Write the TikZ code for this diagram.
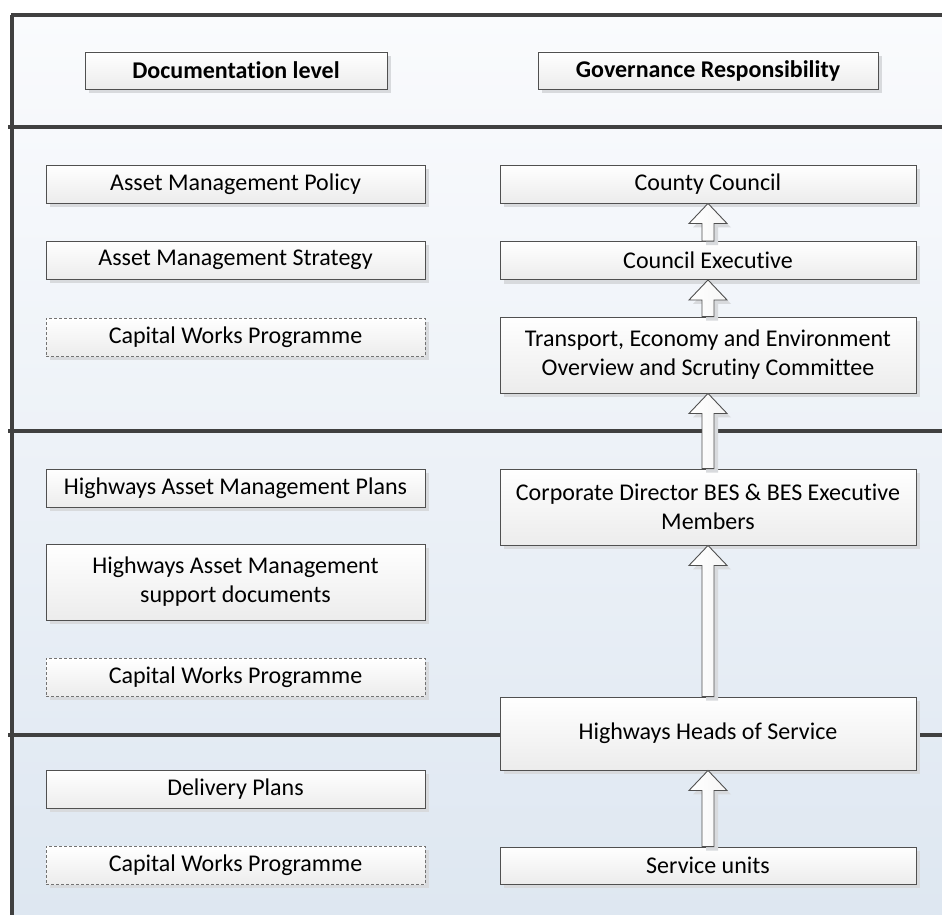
\documentclass[tikz,border=0pt]{standalone}
\usepackage{fontspec}
\setmainfont{Carlito}[Ligatures=NoCommon]
\usetikzlibrary{calc,shadows}
\definecolor{frameline}{HTML}{404040}
\definecolor{boxline}{HTML}{505050}
\definecolor{boxbot}{HTML}{ECECEC}
\definecolor{shadowgray}{HTML}{D8DADD}
\definecolor{lanetop}{HTML}{FAFBFD}
\definecolor{lanetopb}{HTML}{F6F8FB}
\definecolor{lanehi}{HTML}{F7F9FC}
\definecolor{lanelo}{HTML}{DEE7F1}
\tikzset{
  box/.style={draw=boxline, line width=0.9pt, top color=white, bottom color=boxbot,
    inner sep=0pt, align=center, font=\fontsize{24}{29}\selectfont,
    drop shadow={shadow xshift=4pt, shadow yshift=-4pt, fill=shadowgray, opacity=1}},
  dbox/.style={box, draw=gray!90!black, dash pattern=on 3pt off 2pt},
  hbox/.style={box, font=\fontsize{24}{29}\selectfont\bfseries},
  lane/.style={draw=frameline, line width=4pt},
  blockarrow/.style={draw=boxline, line width=0.9pt, left color=white, right color=boxbot!50,
    drop shadow={shadow xshift=4pt, shadow yshift=-4pt, fill=shadowgray, opacity=1}}
}
\newcommand{\upblock}[2]{%
  \path[blockarrow] ($(#1.north)+(-6,0)$) -- ($(#2.south)+(-6,20)$) -- ($(#2.south)+(-19,20)$)
    -- (#2.south) -- ($(#2.south)+(19,20)$) -- ($(#2.south)+(6,20)$) -- ($(#1.north)+(6,0)$) -- cycle;}
\begin{document}
\begin{tikzpicture}[x=1pt,y=-1pt]
\useasboundingbox (0,0) rectangle (942,915);
\fill[white] (0,0) rectangle (942,915);
% lane backgrounds
\fill[top color=lanetop, bottom color=lanetopb] (11,15) rectangle (942,127);
\fill[top color=lanehi, bottom color=lanelo] (11,127) rectangle (942,915);
% frame lines
\draw[lane] (11,15.5) -- (942,15.5);
\draw[lane] (11.5,15) -- (11.5,915);
\draw[lane] (8,127.5) -- (942,127.5);
\draw[lane] (8,430.5) -- (942,430.5);
\draw[lane] (8,734.5) -- (942,734.5);
% headers
\node[hbox, minimum width=302pt, minimum height=37pt] (hdoc) at (236,70.5) {Documentation level};
\node[hbox, minimum width=340pt, minimum height=37pt] (hgov) at (708,70.5) {Governance Responsibility};
% left column
\node[box, minimum width=379pt, minimum height=38pt] (amp) at (235.5,184) {Asset Management Policy};
\node[box, minimum width=379pt, minimum height=38pt] (ams) at (235.5,260) {Asset Management Strategy};
\node[dbox, minimum width=379pt, minimum height=38pt] (cwp1) at (235.5,337) {Capital Works Programme};
\node[box, minimum width=379pt, minimum height=38pt] (hamp) at (235.5,488) {Highways Asset Management Plans};
\node[box, minimum width=379pt, minimum height=76pt] (hasd) at (235.5,582) {Highways Asset Management\\support documents};
\node[dbox, minimum width=379pt, minimum height=38pt] (cwp2) at (235.5,677) {Capital Works Programme};
\node[box, minimum width=379pt, minimum height=38pt] (dp) at (235.5,789) {Delivery Plans};
\node[dbox, minimum width=379pt, minimum height=38pt] (cwp3) at (235.5,865) {Capital Works Programme};
% right column
\node[box, minimum width=416pt, minimum height=38pt] (cc) at (708,184) {County Council};
\node[box, minimum width=416pt, minimum height=38pt] (ce) at (708,260.5) {Council Executive};
\node[box, minimum width=416pt, minimum height=76pt] (tee) at (708,355) {Transport, Economy and Environment\\Overview and Scrutiny Committee};
\node[box, minimum width=416pt, minimum height=76pt] (cd) at (708,507) {Corporate Director BES \& BES Executive\\Members};
\node[box, minimum width=416pt, minimum height=73pt] (hhs) at (708,733.5) {Highways Heads of Service};
\node[box, minimum width=416pt, minimum height=37pt] (su) at (708,865.5) {Service units};
% block arrows
\upblock{ce}{cc}
\upblock{tee}{ce}
\upblock{cd}{tee}
\upblock{hhs}{cd}
\upblock{su}{hhs}
\end{tikzpicture}
\end{document}
